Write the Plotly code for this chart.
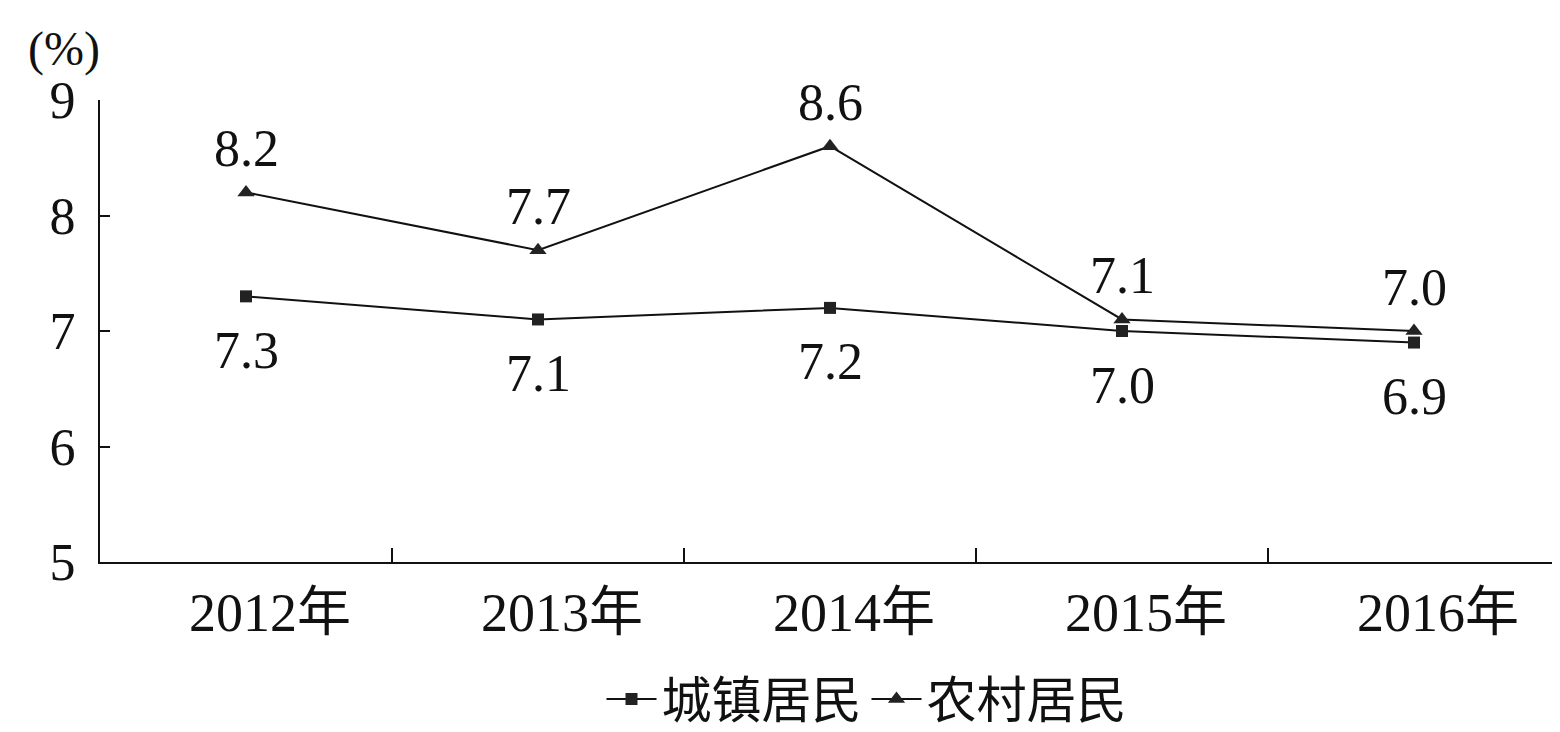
import plotly.graph_objects as go

years = ["2012年", "2013年", "2014年", "2015年", "2016年"]
urban = [7.3, 7.1, 7.2, 7.0, 6.9]
rural = [8.2, 7.7, 8.6, 7.1, 7.0]
urban_name = "城镇居民"
rural_name = "农村居民"
y_ticks = [5, 6, 7, 8, 9]

FONT = "Liberation Serif, Times New Roman, Noto Sans CJK SC, serif"

fig = go.Figure()
fig.add_trace(go.Scatter(
    x=years, y=urban, name=urban_name, mode="lines+markers",
    line=dict(color="#111", width=2),
    marker=dict(symbol="square", size=12, color="#222"),
))
fig.add_trace(go.Scatter(
    x=years, y=rural, name=rural_name, mode="lines+markers",
    line=dict(color="#111", width=2),
    marker=dict(symbol="triangle-up", size=15, color="#222"),
))

for x, v in zip(years, rural):
    fig.add_annotation(x=x, y=v, text=f"{v:.1f}", showarrow=False,
                       yshift=44, font=dict(family=FONT, size=52, color="#111"))
for x, v in zip(years, urban):
    fig.add_annotation(x=x, y=v, text=f"{v:.1f}", showarrow=False,
                       yshift=-54, font=dict(family=FONT, size=52, color="#111"))

fig.add_annotation(xref="paper", yref="paper", x=-0.025, y=1.11, xanchor="center",
                   yanchor="middle", text="(%)", showarrow=False,
                   font=dict(family=FONT, size=48, color="#111"))

fig.update_layout(
    width=1552, height=724,
    margin=dict(l=92, r=0, t=92, b=170, autoexpand=False),
    paper_bgcolor="white", plot_bgcolor="white",
    font=dict(family=FONT, size=52, color="#111"),
    showlegend=True,
    legend=dict(orientation="h", x=0.525, xanchor="center", y=-0.212, yanchor="top",
                font=dict(family=FONT, size=50, color="#111"),
                itemwidth=50, tracegroupgap=0, bgcolor="rgba(0,0,0,0)"),
    xaxis=dict(
        type="category", range=[-0.5, 4.5], automargin=False,
        showline=True, linecolor="#111", linewidth=2,
        ticks="inside", tickson="boundaries", ticklen=14, tickwidth=1.5, tickcolor="#111",
        showgrid=False, zeroline=False,
        tickfont=dict(family=FONT, size=54, color="#111"),
        ticklabelstandoff=2, ticklabelshift=24,
    ),
    yaxis=dict(
        range=[5, 9], tickvals=y_ticks, automargin=False,
        showline=True, linecolor="#111", linewidth=2,
        ticks="inside", ticklen=10, tickwidth=2, tickcolor="#111",
        showgrid=False, zeroline=False,
        tickfont=dict(family=FONT, size=52, color="#111"),
        ticklabelstandoff=12,
    ),
)

fig.write_html("out.html")
